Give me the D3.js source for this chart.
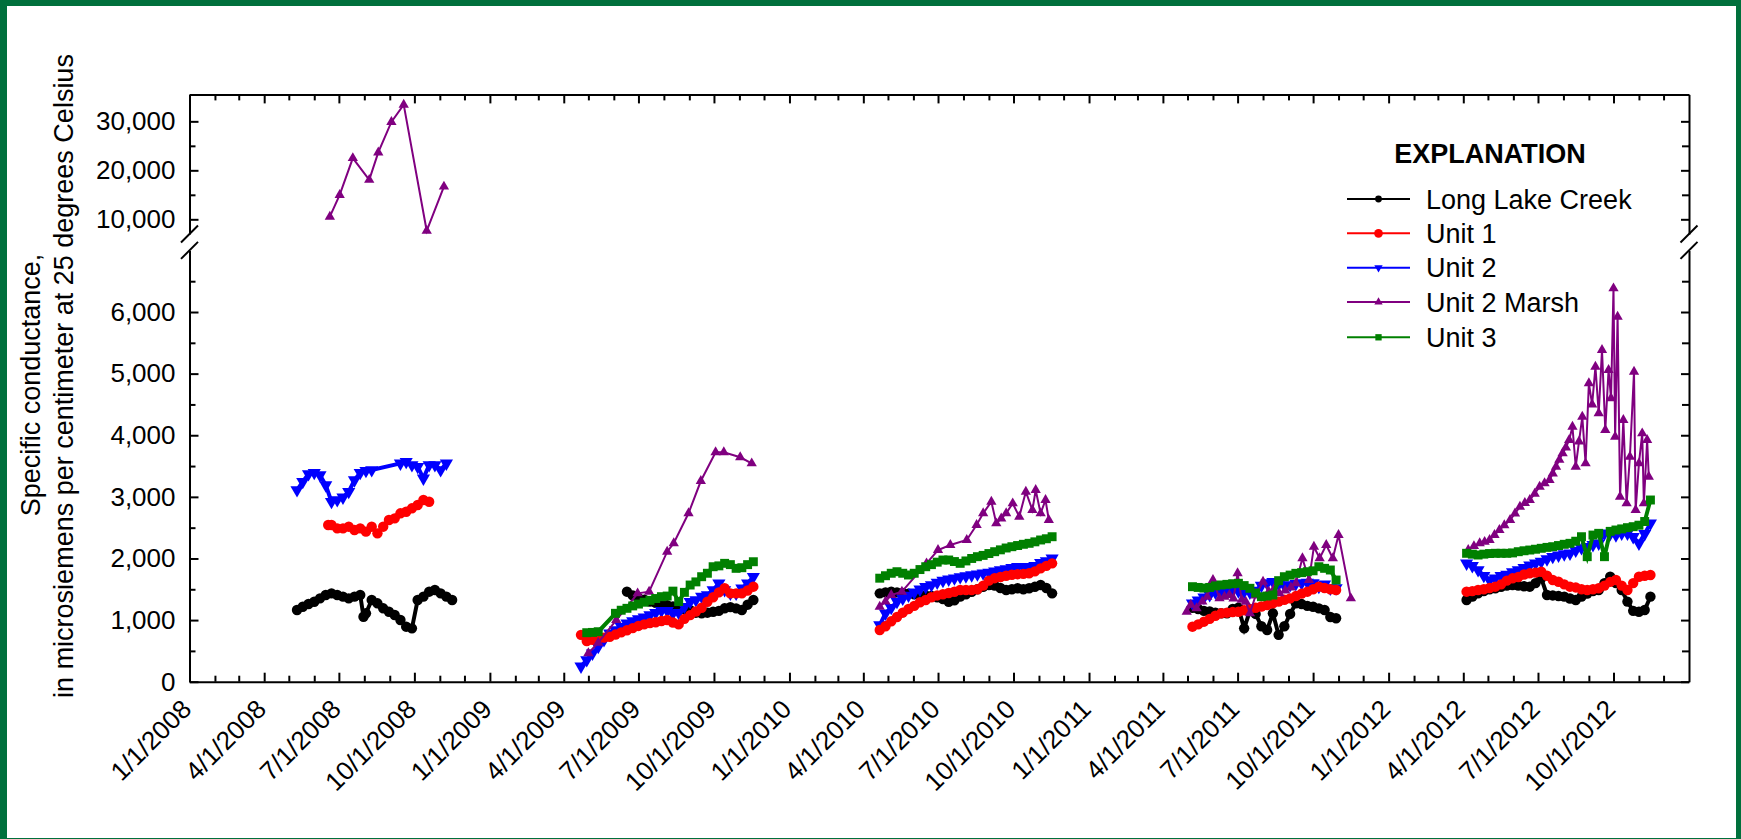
<!DOCTYPE html>
<html>
<head>
<meta charset="utf-8">
<script src="https://cdn.jsdelivr.net/npm/d3@7"></script>
<style>
  html, body { margin: 0; padding: 0; background: #00703c; }
  svg { display: block; }
  text { font-family: "Liberation Sans", Arial, sans-serif; fill: #000; }
</style>
</head>
<body>
<svg id="chart" width="1741" height="839"></svg>
<script>
// ---- data ----
const seriesNames = ["Long Lake Creek", "Unit 1", "Unit 2", "Unit 2 Marsh", "Unit 3"];

// 2008 season
const dates2008 = ["5/11/2008","5/18/2008","5/25/2008","6/1/2008","6/8/2008","6/15/2008","6/18/2008","6/22/2008","6/29/2008","7/6/2008",
  "7/13/2008","7/20/2008","7/27/2008","7/31/2008","8/3/2008","8/10/2008","8/17/2008","8/24/2008","8/31/2008","9/7/2008",
  "9/14/2008","9/21/2008","9/28/2008","10/5/2008","10/12/2008","10/19/2008","10/26/2008","11/2/2008","11/9/2008","11/16/2008"];
const llc2008 = [1164,1217,1261,1298,1353,1407,null,1434,1407,1380,1353,1380,1407,1055,1110,1326,1272,1191,1136,1082,1001,893,866,1326,1380,1461,1488,1434,1380,1326];
const unit1_2008 = [null,null,null,null,null,null,2543,2543,2489,2489,2516,2462,2489,null,2435,2516,2408,2516,2624,2651,2733,2759,2814,2868,2949,2921,null,null,null,null];
const unit2_2008 = [3111,3246,3371,3392,3354,3192,null,2921,2949,2992,3083,3273,3392,null,3424,3436,null,null,null,null,3544,3570,3517,3489,3301,3517,3517,3436,3544,null];
const marshDates2008 = ["6/20/2008","7/2/2008","7/18/2008","8/7/2008","8/18/2008","9/3/2008","9/18/2008","10/16/2008","11/6/2008"];
const marsh2008 = [10533,14980,22500,18050,23650,29880,33400,7660,16680];

// 2009 season
const dates2009 = ["4/22/2009","4/29/2009","5/6/2009","5/13/2009","5/20/2009","5/27/2009","6/3/2009","6/10/2009","6/17/2009","6/24/2009",
  "7/1/2009","7/8/2009","7/15/2009","7/22/2009","7/29/2009","8/5/2009","8/12/2009","8/19/2009","8/26/2009","9/2/2009",
  "9/9/2009","9/16/2009","9/23/2009","9/30/2009","10/7/2009","10/14/2009","10/21/2009","10/28/2009","11/4/2009","11/11/2009","11/18/2009"];
const llc2009 = [null,null,null,null,null,null,null,null,1461,1400,1360,1330,1300,1280,1260,1240,1220,1200,1180,1160,1120,1110,1120,1136,1150,1191,1210,1190,1164,1250,1326];
const unit1_2009 = [760,660,680,700,715,730,765,800,835,870,905,930,950,965,985,1001,960,930,1020,1080,1140,1200,1298,1370,1450,1516,1434,1434,1434,1480,1542];
const unit2_2009 = [250,352,461,568,677,785,839,893,948,985,1018,1045,1083,1120,1152,1152,1110,1120,1217,1298,1326,1380,1407,1488,1597,1488,1435,1435,1516,1597,1704];
const unit3_2009 = [null,795,800,811,null,null,1110,1160,1191,1230,1260,1290,1320,1350,1380,1390,1470,1300,1450,1569,1620,1704,1760,1866,1880,1921,1900,1840,1850,1900,1947];
const marshDates2009 = ["5/1/2009","5/13/2009","6/4/2009","6/30/2009","7/14/2009","8/5/2009","8/13/2009","8/31/2009","9/15/2009","10/3/2009","10/13/2009","11/2/2009","11/16/2009"];
const marsh2009 = [461,633,1001,1434,1461,2110,2246,2733,3257,3723,3723,3642,3544];

// 2010 season
const dates2010 = ["4/21/2010","4/28/2010","5/5/2010","5/12/2010","5/19/2010","5/26/2010","6/2/2010","6/9/2010","6/16/2010","6/23/2010",
  "6/30/2010","7/7/2010","7/14/2010","7/21/2010","7/28/2010","8/4/2010","8/11/2010","8/18/2010","8/25/2010","9/1/2010",
  "9/8/2010","9/15/2010","9/22/2010","9/29/2010","10/6/2010","10/13/2010","10/20/2010","10/27/2010","11/3/2010","11/10/2010","11/17/2010"];
const llc2010 = [1434,1450,1461,1450,1440,1430,1420,1410,1400,1390,1370,1340,1298,1320,1380,1420,1460,1500,1540,1569,1560,1520,1488,1500,1516,1500,1516,1540,1569,1520,1434];
const unit1_2010 = [839,900,980,1050,1120,1180,1230,1290,1326,1370,1400,1420,1440,1460,1488,1488,1488,1500,1560,1640,1680,1700,1720,1735,1745,1750,1760,1790,1840,1880,1921];
const unit2_2010 = [920,1110,1200,1300,1350,1400,1450,1500,1540,1570,1610,1640,1660,1680,1700,1715,1730,1745,1760,1770,1790,1813,1830,1850,1866,1860,1866,1880,1930,1960,2003];
const unit3_2010 = [1680,1720,1760,1785,1760,1732,1760,1820,1866,1900,1940,1975,1975,1950,1921,1960,2000,2029,2050,2080,2110,2140,2170,2191,2210,2230,2246,2270,2300,2320,2353];
const marshDates2010 = ["4/21/2010","4/28/2010","5/5/2010","5/18/2010","6/17/2010","7/1/2010","7/16/2010","8/5/2010","8/17/2010","8/25/2010","9/4/2010",
  "9/10/2010","9/16/2010","9/22/2010","9/30/2010","10/8/2010","10/16/2010","10/24/2010","10/28/2010","11/3/2010","11/9/2010","11/13/2010"];
const marsh2010 = [1217,1300,1407,1461,1921,2137,2218,2300,2543,2733,2921,2570,2650,2733,2895,2678,3083,2786,3111,2733,2949,2624];

// 2011 season
const dates2011 = ["4/30/2011","5/7/2011","5/14/2011","5/21/2011","5/28/2011","6/4/2011","6/11/2011","6/18/2011","6/25/2011","7/2/2011",
  "7/9/2011","7/16/2011","7/23/2011","7/30/2011","8/6/2011","8/13/2011","8/20/2011","8/27/2011","9/3/2011","9/10/2011",
  "9/17/2011","9/24/2011","10/1/2011","10/8/2011","10/15/2011","10/22/2011","10/29/2011"];
const llc2011 = [null,1200,1180,1150,1140,1120,1110,1110,1180,1200,866,1150,1100,900,839,1110,760,900,1100,1272,1260,1230,1217,1190,1164,1050,1029];
const unit1_2011 = [null,893,930,974,1020,1070,1110,1120,1130,1136,1160,1180,1200,1220,1245,1272,1300,1330,1353,1390,1430,1461,1500,1542,1520,1500,1488];
const unit2_2011 = [null,1272,1320,1370,1410,1450,1470,1488,1480,1470,1460,1450,1480,1560,1600,1623,1580,1560,1570,1590,1600,1610,1600,1542,1580,1515,1520];
const unit3_2011 = [null,1542,1530,1520,1530,1555,1570,1580,1590,1597,1560,1516,1440,1380,1390,1407,1640,1704,1730,1759,1770,1785,1800,1866,1840,1813,1650];
const marshDates2011 = ["4/30/2011","5/5/2011","5/12/2011","5/19/2011","5/25/2011","6/1/2011","6/9/2011","6/15/2011","6/21/2011","6/26/2011",
  "7/1/2011","7/6/2011","7/11/2011","7/16/2011","7/23/2011","8/1/2011","8/8/2011","8/14/2011","8/21/2011","8/28/2011",
  "9/4/2011","9/10/2011","9/18/2011","9/26/2011","10/2/2011","10/9/2011","10/17/2011","10/25/2011","11/1/2011","11/16/2011"];
const marsh2011 = [1136,1250,1191,1300,1380,1650,1353,1380,1407,1350,1759,1330,1298,1110,1400,1623,1460,1500,1434,1480,1530,1597,2003,1650,2191,2003,2218,2003,2381,1353];

// 2012 season
const dates2012 = ["4/5/2012","4/12/2012","4/19/2012","4/26/2012","5/3/2012","5/10/2012","5/17/2012","5/24/2012","5/31/2012","6/7/2012",
  "6/14/2012","6/21/2012","6/28/2012","7/5/2012","7/12/2012","7/19/2012","7/26/2012","8/2/2012","8/9/2012","8/16/2012",
  "8/23/2012","8/30/2012","9/6/2012","9/13/2012","9/20/2012","9/27/2012","10/4/2012","10/11/2012","10/18/2012","10/25/2012",
  "11/1/2012","11/8/2012","11/15/2012"];
const llc2012 = [1326,1380,1434,1470,1500,1516,1540,1560,1569,1560,1550,1542,1600,1678,1407,1400,1390,1380,1350,1326,1380,1430,1470,1488,1600,1704,1600,1488,1300,1150,1136,1164,1380];
const unit1_2012 = [1461,1470,1488,1500,1520,1542,1580,1640,1678,1700,1740,1759,1770,1785,1720,1650,1623,1580,1542,1530,1500,1488,1500,1516,1560,1620,1650,1560,1488,1600,1704,1720,1732];
const unit2_2012 = [1921,1880,1813,1720,1650,1680,1720,1740,1780,1813,1850,1890,1921,1950,1990,2029,2050,2070,2084,2130,2170,2191,2220,2246,2408,2400,2380,2408,2408,2350,2246,2400,2570];
const unit3_2012 = [2084,2070,2056,2070,2080,2084,2084,2084,2090,2110,2125,2137,2150,2165,2180,2191,2210,2230,2246,2280,2353,2029,2380,2408,2029,2440,2462,2480,2500,2516,2540,2600,2949];
const marshDates2012 = ["4/7/2012","4/14/2012","4/21/2012","4/27/2012","5/3/2012","5/9/2012","5/15/2012","5/21/2012","5/28/2012","6/3/2012",
  "6/9/2012","6/15/2012","6/21/2012","6/27/2012","7/3/2012","7/9/2012","7/15/2012","7/19/2012","7/23/2012","7/27/2012",
  "7/31/2012","8/4/2012","8/8/2012","8/12/2012","8/16/2012","8/20/2012","8/24/2012","8/28/2012","9/1/2012","9/5/2012",
  "9/9/2012","9/13/2012","9/17/2012","9/21/2012","9/25/2012","9/28/2012","10/1/2012","10/3/2012","10/6/2012","10/9/2012",
  "10/13/2012","10/17/2012","10/21/2012","10/26/2012","10/28/2012","11/1/2012","11/5/2012","11/7/2012","11/11/2012","11/13/2012"];
const marsh2012 = [2137,2200,2246,2270,2300,2380,2462,2540,2624,2730,2840,2900,2949,3050,3165,3220,3273,3380,3489,3600,
  3707,3800,3922,4138,3489,3900,4300,3544,4843,4500,5112,4356,5383,4085,5058,4600,6384,3976,5923,3002,
  4247,2895,3651,5031,2786,3544,4031,2895,3922,3327];

// axis ticks
const lowerTicks = [0, 1000, 2000, 3000, 4000, 5000, 6000];
const lowerMinor = [500, 1500, 2500, 3500, 4500, 5500, 6500];
const upperTicks = [10000, 20000, 30000];
const upperMinor = [15000, 25000];

// ---- drawing ----
const parseDate = d3.timeParse("%m/%d/%Y");
const svg = d3.select("#chart");
const W = 1741, H = 839;

svg.append("rect").attr("x", 7).attr("y", 6).attr("width", W - 12).attr("height", H - 7).attr("fill", "#fff");

const plot = {left: 189.5, right: 1689, top: 94.4, bottom: 681.7, upperBottom: 234, lowerTop: 250.4};

var x = d3.scaleTime()
    .domain([new Date(2008, 0, 1), new Date(2013, 0, 1)])
    .range([plot.left, plot.right]);
var yLow = d3.scaleLinear().domain([0, 7000]).range([plot.bottom, plot.lowerTop]);
var yHigh = d3.scaleLinear().domain([7000, 35500]).range([plot.upperBottom, plot.top]);
const yOf = (v) => v > 7000 ? yHigh(v) : yLow(v);

const quarters = d3.timeMonth.every(3).range(new Date(2008, 0, 1), new Date(2013, 0, 1));
const months = d3.timeMonth.range(new Date(2008, 1, 1), new Date(2013, 0, 1)).filter(d => d.getMonth() % 3 !== 0);

const axisGrp = svg.append("g").attr("class", "axes");

// bottom axis
var xAxis = axisGrp.append("g")
    .attr("transform", "translate(0," + plot.bottom + ")")
    .call(d3.axisBottom(x).tickValues(quarters).tickSize(-9).tickSizeOuter(0).tickFormat(d3.timeFormat("%-m/%-d/%Y")));
xAxis.selectAll("text")
    .attr("x", 0).attr("y", 0).attr("dy", 0)
    .attr("transform", "translate(3,29) rotate(-45)")
    .style("text-anchor", "end")
    .style("font-size", "26px");
axisGrp.append("g")
    .attr("transform", "translate(0," + plot.bottom + ")")
    .call(d3.axisBottom(x).tickValues(months).tickSize(-6).tickFormat(""))
    .select(".domain").remove();

// top axis (mirror)
axisGrp.append("g")
    .attr("transform", "translate(0," + plot.top + ")")
    .call(d3.axisTop(x).tickValues(quarters).tickSize(-9).tickSizeOuter(0).tickFormat(""));
axisGrp.append("g")
    .attr("transform", "translate(0," + plot.top + ")")
    .call(d3.axisTop(x).tickValues(months).tickSize(-6).tickFormat(""))
    .select(".domain").remove();

// left axes
const fmt = d3.format(",");
[[yLow, lowerTicks, lowerMinor], [yHigh, upperTicks, upperMinor]].forEach(([sc, major, minor]) => {
    var g = axisGrp.append("g")
        .attr("transform", "translate(" + plot.left + ",0)")
        .call(d3.axisLeft(sc).tickValues(major).tickSize(-9).tickSizeOuter(0).tickPadding(14).tickFormat(fmt));
    g.selectAll("text").style("font-size", "26px");
    axisGrp.append("g")
        .attr("transform", "translate(" + plot.left + ",0)")
        .call(d3.axisLeft(sc).tickValues(minor).tickSize(-6).tickFormat(""))
        .select(".domain").remove();
    // right axis (mirror)
    axisGrp.append("g")
        .attr("transform", "translate(" + plot.right + ",0)")
        .call(d3.axisRight(sc).tickValues(major).tickSize(-8).tickSizeOuter(0).tickFormat(""));
    axisGrp.append("g")
        .attr("transform", "translate(" + plot.right + ",0)")
        .call(d3.axisRight(sc).tickValues(minor).tickSize(-7).tickFormat(""))
        .select(".domain").remove();
});

axisGrp.selectAll(".domain, .tick line").attr("stroke", "#000").attr("stroke-width", 2);

// axis break marks
[plot.left, plot.right].forEach(ax => {
    [plot.upperBottom, plot.lowerTop].forEach(cy => {
        axisGrp.append("line")
            .attr("x1", ax - 8.5).attr("y1", cy + 8.5)
            .attr("x2", ax + 8.5).attr("y2", cy - 8.5)
            .attr("stroke", "#000").attr("stroke-width", 2);
    });
});

// y axis title
svg.append("text")
    .attr("transform", "translate(40,385) rotate(-90)")
    .attr("text-anchor", "middle")
    .style("font-size", "27px")
    .text("Specific conductance,");
svg.append("text")
    .attr("transform", "translate(73,376) rotate(-90)")
    .attr("text-anchor", "middle")
    .style("font-size", "27px")
    .text("in microsiemens per centimeter at 25 degrees Celsius");

// series
const series = [
    {name: seriesNames[0], color: "#000000", symbol: d3.symbolCircle, size: 85, legendSize: 36, flip: false,
     segments: [[dates2008, llc2008], [dates2009, llc2009], [dates2010, llc2010], [dates2011, llc2011], [dates2012, llc2012]]},
    {name: seriesNames[1], color: "#ff0000", symbol: d3.symbolCircle, size: 85, legendSize: 60, flip: false,
     segments: [[dates2008, unit1_2008], [dates2009, unit1_2009], [dates2010, unit1_2010], [dates2011, unit1_2011], [dates2012, unit1_2012]]},
    {name: seriesNames[2], color: "#0000ff", symbol: d3.symbolTriangle, size: 75, legendSize: 30, flip: true,
     segments: [[dates2008, unit2_2008], [dates2009, unit2_2009], [dates2010, unit2_2010], [dates2011, unit2_2011], [dates2012, unit2_2012]]},
    {name: seriesNames[3], color: "#800080", symbol: d3.symbolTriangle, size: 46, legendSize: 30, flip: false,
     segments: [[marshDates2008, marsh2008], [marshDates2009, marsh2009], [marshDates2010, marsh2010], [marshDates2011, marsh2011], [marshDates2012, marsh2012]]},
    {name: seriesNames[4], color: "#008000", symbol: d3.symbolSquare, size: 80, legendSize: 40, flip: false,
     segments: [[dates2009, unit3_2009], [dates2010, unit3_2010], [dates2011, unit3_2011], [dates2012, unit3_2012]]}
];
const drawOrder = [0, 2, 1, 3, 4];

var line = d3.line()
    .x(function (d) { return x(d.date); })
    .y(function (d) { return yOf(d.v); });

var dataGrp = svg.append("g").attr("id", "allSeries");
drawOrder.forEach(function (k) {
    var s = series[k];
    var grp = dataGrp.append("g");
    s.segments.forEach(function (seg) {
        var pts = seg[0].map(function (d, i) { return {date: parseDate(d), v: seg[1][i]}; })
            .filter(function (p) { return p.v != null; });
        grp.append("path")
            .datum(pts)
            .attr("d", line)
            .attr("fill", "none")
            .attr("stroke", s.color)
            .attr("stroke-width", k === 3 ? 2 : 4);
        grp.selectAll(null)
            .data(pts)
            .enter()
            .append("path")
            .attr("d", d3.symbol(s.symbol, s.size))
            .attr("transform", function (p) {
                return "translate(" + x(p.date) + "," + yOf(p.v) + ")" + (s.flip ? " rotate(180)" : "");
            })
            .attr("fill", s.color);
    });
});

// legend
var legend = svg.append("g").attr("id", "legend");
legend.append("text")
    .attr("x", 1490).attr("y", 163)
    .attr("text-anchor", "middle")
    .style("font-size", "27px")
    .style("font-weight", "bold")
    .text("EXPLANATION");
const legendRows = [199, 233.3, 267.7, 302, 337.3];
series.forEach(function (s, i) {
    var ly = legendRows[i];
    legend.append("line")
        .attr("x1", 1347).attr("x2", 1410).attr("y1", ly).attr("y2", ly)
        .attr("stroke", s.color).attr("stroke-width", 2);
    legend.append("path")
        .attr("d", d3.symbol(s.symbol, s.legendSize))
        .attr("transform", "translate(1378.5," + ly + ")" + (s.flip ? " rotate(180)" : ""))
        .attr("fill", s.color);
    legend.append("text")
        .attr("x", 1426).attr("y", ly + 9.5)
        .style("font-size", "27px")
        .text(s.name);
});
</script>
</body>
</html>
